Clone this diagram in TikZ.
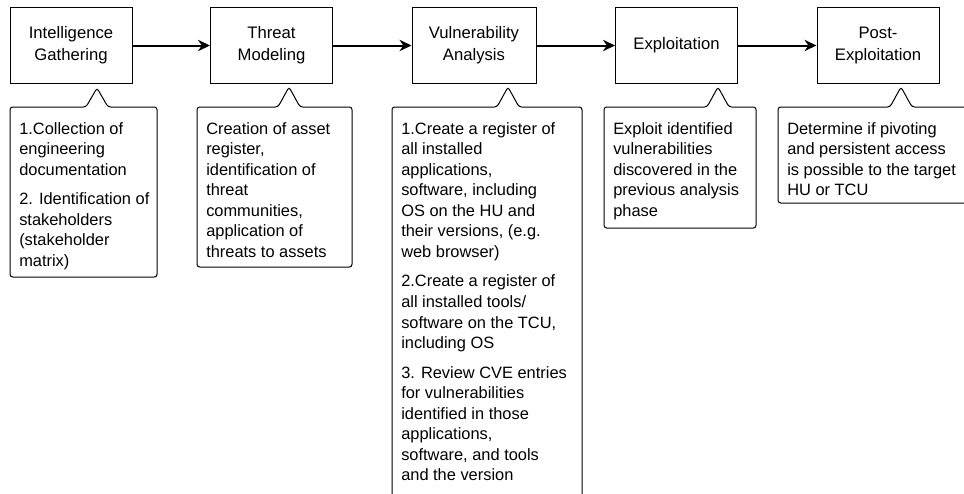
\documentclass[tikz,border=0pt]{standalone}
\usepackage{fontspec}
\setmainfont{Liberation Sans}
\usetikzlibrary{arrows.meta}
% callout outline: left, right, bottom, tip x, tip y
\newcommand{\bubble}[5]{%
  \draw[line width=0.75pt,rounded corners=2pt] (#1,107) -- (#4-11,107)
     -- (#4,#5) -- (#4+11,107) -- (#2,107) -- (#2,#3) -- (#1,#3) -- cycle;}
\tikzset{
  stage/.style={draw,line width=0.75pt,minimum width=91.5pt,minimum height=57pt,
                align=center,font=\fontsize{12.5}{16.5}\selectfont},
  note/.style={anchor=north west,inner sep=0pt,align=left,
               font=\fontsize{12.3}{15.4}\selectfont},
  flow/.style={-{Stealth[length=9pt,width=8.5pt]},line width=1.5pt}
}

\begin{document}
\begin{tikzpicture}[x=0.75pt,y=-0.75pt]
     \useasboundingbox (0,0) rectangle (964,493);
     \clip (0,0) rectangle (964,493);
     % phases
     \node[stage] (ig) at (71,45.5)    {Intelligence\\Gathering};
     \node[stage] (tm) at (271.5,45.5) {Threat\\Modeling};
     \node[stage,minimum width=93pt] (va) at (474,45.5) {Vulnerability\\Analysis};
     \node[stage] (ex) at (676.5,45.5) {Exploitation};
     \node[stage] (pe) at (878,45.5)   {Post-\\Exploitation};
     \foreach \a/\b in {ig/tm,tm/va,va/ex,ex/pe} {
      \draw[flow] (\a) -- (\b);
     }
     % callouts
     \bubble{10}{157}{277}{97}{88}
     \bubble{197}{352}{267}{289}{87}
     \bubble{392}{582}{510}{508}{87}
     \bubble{604}{756}{228}{718}{87}
     \bubble{778}{975}{203}{901}{87}
     \node[note] (n1) at (19,119.6) {\strut 1.Collection of\\engineering\\documentation\\[6.75pt]
        2. Identification of\\stakeholders\\(stakeholder\\matrix)};
     \node[note] (n2) at (206,119.6) {\strut Creation of asset\\register,\\identification of\\threat\\
        communities,\\application of\\threats to assets};
     \node[note] (n3) at (401,119.6) {\strut 1.Create a register of\\all installed\\applications,\\
        software, including\\OS on the HU and\\their versions, (e.g.\\web browser)\\[6.75pt]
        2.Create a register of\\all installed tools/\\software on the TCU,\\including OS\\[6.75pt]
        3. Review CVE entries\\for vulnerabilities\\identified in those\\applications,\\
        software, and tools\\and the version};
     \node[note] (n4) at (613,119.6) {\strut Exploit identified\\vulnerabilities\\discovered in the\\
        previous analysis\\phase};
     \node[note] (n5) at (787,119.6) {\strut Determine if pivoting\\and persistent access\\
        is possible to the target\\HU or TCU};
    \end{tikzpicture}
\end{document}
